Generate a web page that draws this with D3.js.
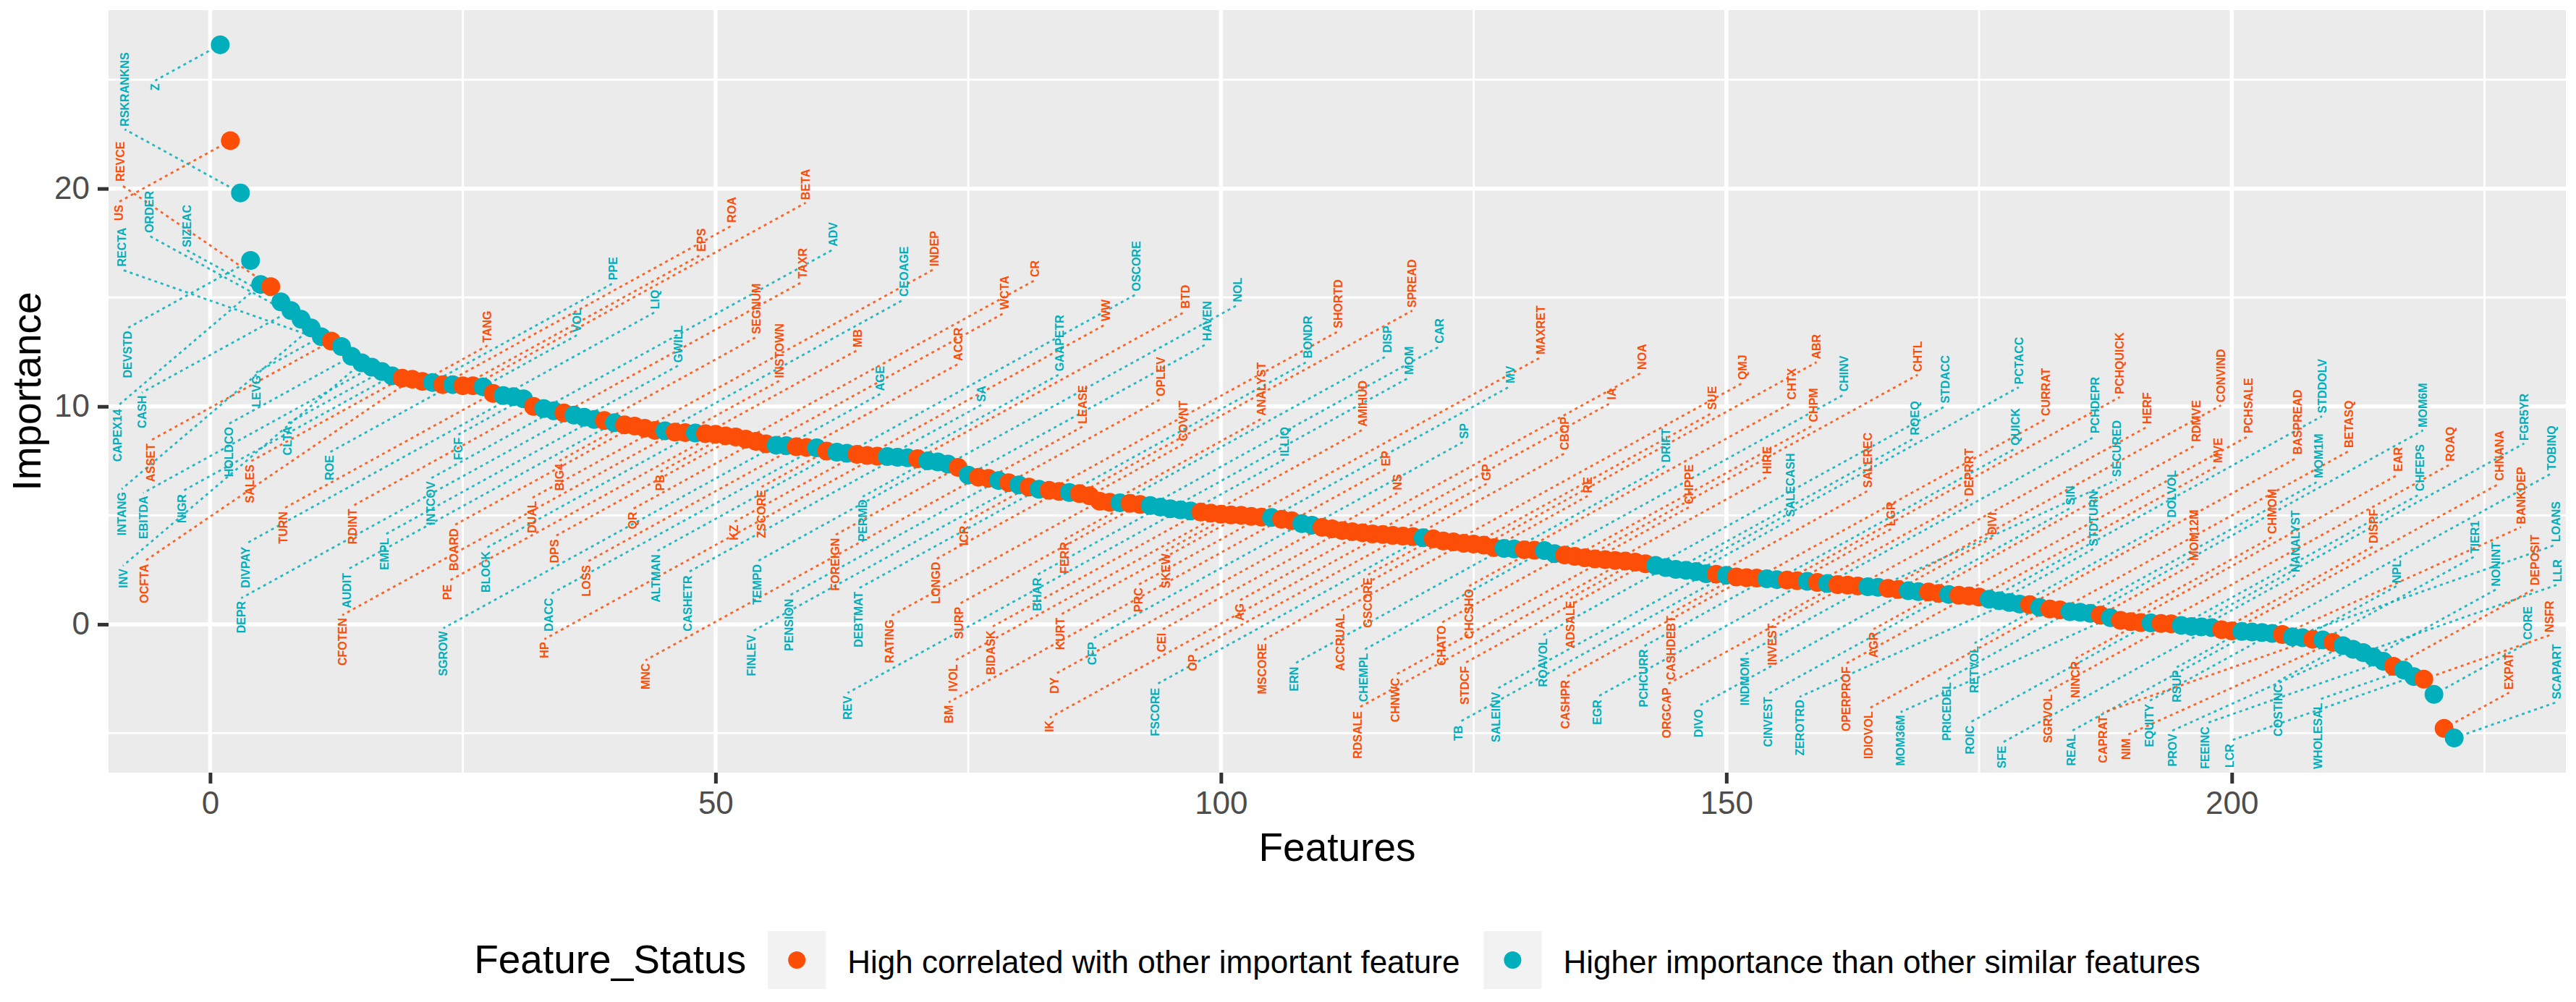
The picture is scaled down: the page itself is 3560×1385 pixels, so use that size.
<!DOCTYPE html>
<meta charset="utf-8">
<script src="https://d3js.org/d3.v7.min.js"></script>
<style type="text/css">
body { margin: 0; background: #fff; }
text { font-family: "Liberation Sans", Arial, sans-serif; }
.panel { fill: #EBEBEB; }
.grid-major { stroke: #fff; stroke-width: 5.5; }
.grid-minor { stroke: #fff; stroke-width: 2.8; }
.axis path { display: none; }
.axis line { stroke: #333333; stroke-width: 5; }
.axis text { fill: #4D4D4D; font-size: 44px; }
.seg { fill: none; stroke-width: 2.8; stroke-dasharray: 4 5; opacity: 0.85; }
.lab { font-size: 16px; font-weight: bold; }
</style>
<body>
</body>
<script>
// importance of each feature, ordered as on the x axis (1..222)
var importance = [
  26.6, 22.2, 19.8, 16.7, 15.6, 15.5, 14.8, 14.4, 14.0, 13.6,
  13.2, 13.0, 12.75, 12.3, 12.0, 11.8, 11.6, 11.4, 11.3, 11.25,
  11.15, 11.1, 11.0, 11.0, 10.95, 10.95, 10.9, 10.6, 10.5, 10.45,
  10.35, 10.0, 9.9, 9.8, 9.7, 9.6, 9.5, 9.4, 9.35, 9.25,
  9.15, 9.1, 9.0, 8.9, 8.88, 8.82, 8.8, 8.78, 8.75, 8.72,
  8.65, 8.6, 8.5, 8.4, 8.28, 8.22, 8.2, 8.15, 8.12, 8.1,
  7.95, 7.9, 7.85, 7.8, 7.75, 7.72, 7.7, 7.67, 7.64, 7.6,
  7.5, 7.45, 7.35, 7.2, 6.85, 6.75, 6.7, 6.6, 6.5, 6.4,
  6.3, 6.2, 6.15, 6.1, 6.05, 6.0, 5.9, 5.65, 5.6, 5.58,
  5.55, 5.5, 5.45, 5.38, 5.3, 5.25, 5.2, 5.15, 5.1, 5.05,
  5.02, 5.0, 4.95, 4.92, 4.9, 4.82, 4.75, 4.62, 4.55, 4.45,
  4.38, 4.3, 4.25, 4.2, 4.15, 4.12, 4.08, 4.05, 4.02, 3.97,
  3.92, 3.82, 3.78, 3.72, 3.68, 3.63, 3.52, 3.48, 3.46, 3.42,
  3.4, 3.38, 3.24, 3.18, 3.12, 3.05, 3.0, 2.97, 2.93, 2.9,
  2.85, 2.78, 2.7, 2.6, 2.52, 2.48, 2.42, 2.32, 2.3, 2.25,
  2.17, 2.14, 2.12, 2.09, 2.05, 2.03, 2.0, 1.97, 1.92, 1.87,
  1.82, 1.8, 1.76, 1.72, 1.7, 1.65, 1.6, 1.54, 1.5, 1.48,
  1.42, 1.37, 1.33, 1.3, 1.25, 1.15, 1.08, 1.0, 0.93, 0.9,
  0.78, 0.7, 0.66, 0.58, 0.55, 0.5, 0.42, 0.3, 0.18, 0.12,
  0.08, 0.06, 0.04, 0.02, -0.05, -0.1, -0.12, -0.15, -0.25, -0.3,
  -0.33, -0.35, -0.38, -0.42, -0.47, -0.58, -0.62, -0.69, -0.72, -0.83,
  -0.98, -1.15, -1.3, -1.5, -1.7, -1.93, -2.1, -2.4, -2.52, -3.22,
  -4.78, -5.22
];

// O = high correlated with other important feature, T = higher importance than similar
var featureStatus = ("TOTTTOTTTT" + "TOTTTTTTOO" + "OTOTOOTOTT" + "TOTTOTTTOT" + "OOOOTOOTOO" +
              "OOOOOTTOOT" + "OTTOOOTTTO" + "TTTOTOOTOT" + "OTOOTOOOOT" + "OOTTTTTOOO" +
              "OOOOTOOTTO" + "OOOOOOOOOT" + "OOOOOOOTTO" + "OTTOOOOOOO" + "OOTTTTTTOT" +
              "OOOTTOOTOT" + "OOOTTOOTTO" + "OTOOOTTTTO" + "TOOTTTOTOO" + "OTOOTTTTOO" +
              "TTTTOTTOTO" + "TTTTTOTTOT" + "OT").split("");

var names = ("Z US RSKRANKNS DEVSTD CAPEX14 REVCE SIZEAC CASH ORDER INTANG " +
  "LEVG ASSET RECTA HOLDCO INV EBITDA CLTA NIGR SALES OCFTA " +
  "TANG PPE ROA ROE EPS BETA VOL TURN LIQ DIVPAY " +
  "FCF RDINT ADV INTCOV TAXR DEPR GWILL EMPL SEGNUM AUDIT " +
  "BIG4 BOARD INDEP DUAL CEOAGE CFOTEN INSTOWN BLOCK MB PE " +
  "PB DPS CR QR WCTA SGROW AGE LOSS ACCR DACC " +
  "ZSCORE ALTMAN OSCORE KZ WW HP SA CASHETR GAAPETR BTD " +
  "PERMD TEMPD NOL FOREIGN HAVEN MNC LEASE PENSION OPLEV FINLEV " +
  "ICR DEBTMAT SHORTD LONGD BONDR SPREAD COVNT RATING ANALYST DISP " +
  "FERR SURP CAR BHAR MOM REV ILLIQ BIDASK AMIHUD IVOL " +
  "SKEW KURT MAXRET PRC MV BM EP CFP SP DY " +
  "NS CEI NOA AG IA IK GP OP CBOP FSCORE " +
  "GSCORE MSCORE QMJ ACCRUAL SUE ABR RE ERN DRIFT CHTX " +
  "CHCSHO CHEMPL CHINV CHATO CHPM CHTL CHPPE CHNWC HIRE RDSALE " +
  "ADSALE STDCF STDACC ROAVOL ROEQ PCTACC SALECASH SALEINV SALEREC TB " +
  "CASHDEBT CASHPR CURRAT PCHCURR QUICK PCHQUICK LGR EGR DEPRRT PCHDEPR " +
  "INVEST ORGCAP HERF INDMOM SECURED CONVIND DIVI DIVO SIN RDMVE " +
  "AGR CINVEST PCHSALE OPERPROF MVE STDDOLV STDTURN ZEROTRD DOLVOL BASPREAD " +
  "RETVOL IDIOVOL BETASQ PRICEDEL MOM1M MOM6M MOM12M MOM36M CHMOM EAR " +
  "NINCR ROIC ROAQ SGRVOL CHFEPS FGR5YR NANALYST SFE DISPF CHNANA " +
  "RSUP REAL TOBINQ EQUITY BANKDEP LOANS NPL CAPRAT TIER1 NIM " +
  "COSTINC PROV LLR NONINT FEEINC DEPOSIT WHOLESAL LCR NSFR CORE " +
  "EXPAT SCAPART").split(" ");

var statusKeys = ["O", "T"];
var statusLabels = ["High correlated with other important feature", "Higher importance than other similar features"];
var statusColors = ["#FC4E07", "#00AFBB"];

var xMajor = [0, 50, 100, 150, 200];
var xMinor = [25, 75, 125, 175, 225];
var yMajor = [0, 10, 20];
var yMinor = [-5, 5, 15, 25];

var W = 3560, H = 1385;
var panel = {left: 150, right: 3546, top: 14, bottom: 1068};

var color = d3.scaleOrdinal().domain(statusKeys).range(statusColors);

var n = importance.length;
var xPad = (n - 1) * 0.05;
var xScale = d3.scaleLinear()
    .domain([1 - xPad, n + xPad])
    .range([panel.left, panel.right]);
var yExt = d3.extent(importance), yPad = (yExt[1] - yExt[0]) * 0.05;
var yScale = d3.scaleLinear()
    .domain([yExt[0] - yPad, yExt[1] + yPad])
    .range([panel.bottom, panel.top]);

var svg = d3.select("body").append("svg")
    .attr("width", W)
    .attr("height", H);

svg.append("rect")
    .attr("class", "panel")
    .attr("x", panel.left).attr("y", panel.top)
    .attr("width", panel.right - panel.left)
    .attr("height", panel.bottom - panel.top);

// grid
svg.selectAll(".gxm").data(xMinor).enter().append("line")
    .attr("class", "grid-minor")
    .attr("x1", function(d) { return xScale(d); }).attr("x2", function(d) { return xScale(d); })
    .attr("y1", panel.top).attr("y2", panel.bottom);
svg.selectAll(".gym").data(yMinor).enter().append("line")
    .attr("class", "grid-minor")
    .attr("y1", function(d) { return yScale(d); }).attr("y2", function(d) { return yScale(d); })
    .attr("x1", panel.left).attr("x2", panel.right);
svg.selectAll(".gxM").data(xMajor).enter().append("line")
    .attr("class", "grid-major")
    .attr("x1", function(d) { return xScale(d); }).attr("x2", function(d) { return xScale(d); })
    .attr("y1", panel.top).attr("y2", panel.bottom);
svg.selectAll(".gyM").data(yMajor).enter().append("line")
    .attr("class", "grid-major")
    .attr("y1", function(d) { return yScale(d); }).attr("y2", function(d) { return yScale(d); })
    .attr("x1", panel.left).attr("x2", panel.right);

// axes
svg.append("g")
    .attr("class", "axis")
    .attr("transform", "translate(0," + panel.bottom + ")")
    .call(d3.axisBottom(xScale).tickValues(xMajor).tickSize(15).tickPadding(11));
svg.append("g")
    .attr("class", "axis")
    .attr("transform", "translate(" + panel.left + ",0)")
    .call(d3.axisLeft(yScale).tickValues(yMajor).tickSize(15).tickPadding(11));

svg.append("text")
    .text("Features")
    .attr("x", (panel.left + panel.right) / 2)
    .attr("y", 1190)
    .attr("text-anchor", "middle")
    .attr("font-size", "55px");
svg.append("text")
    .text("Importance")
    .attr("transform", "translate(56," + ((panel.top + panel.bottom) / 2) + ") rotate(-90)")
    .attr("text-anchor", "middle")
    .attr("font-size", "55px");

// --- repel-like label placement ---
var FS = 16, R = 13;
var pts = importance.map(function(v, i) {
  return {px: xScale(i + 1), py: yScale(v), name: names[i], st: featureStatus[i]};
});

var meas = svg.append("text").attr("class", "lab");
pts.forEach(function(p) { meas.text(p.name); p.len = meas.node().getComputedTextLength(); });
meas.remove();

var boxes = [];
function hitsBox(b) {
  for (var j = 0; j < boxes.length; j++) {
    var c = boxes[j];
    if (b.x0 < c.x1 + 7 && b.x1 > c.x0 - 7 && b.y0 < c.y1 + 5 && b.y1 > c.y0 - 5) return true;
  }
  return false;
}
function hitsPoint(b) {
  for (var j = 0; j < pts.length; j++) {
    var p = pts[j];
    if (p.px < b.x0 - R - 8 || p.px > b.x1 + R + 8) continue;
    var cx = Math.max(b.x0, Math.min(p.px, b.x1));
    var cy = Math.max(b.y0, Math.min(p.py, b.y1));
    if ((cx - p.px) * (cx - p.px) + (cy - p.py) * (cy - p.py) < (R + 8) * (R + 8)) return true;
  }
  return false;
}

// preferred leader lengths cycle, so the labels spread over the panel
var prefDist = [90, 250, 400, 170, 330, 460, 130, 290, 210, 370];
var slopes = [0.55, 0.45, 0.68, 0.35, 0.85];
function tryAt(p, i, d, slope, side) {
  var w = FS * 0.95, len = p.len + 5;
  var dx = side > 0 ? d : -d;
  if (i < 20 && side > 0) dx = -d;          // steep head: labels go to the left
  var ax = p.px + dx, ay = p.py - side * d * slope;
  var b = side > 0
    ? {x0: ax - w / 2, x1: ax + w / 2, y0: ay - len, y1: ay}
    : {x0: ax - w / 2, x1: ax + w / 2, y0: ay, y1: ay + len};
  if (b.x0 < panel.left + 4 || b.x1 > panel.right - 4 || b.y0 < panel.top + 4 || b.y1 > panel.bottom - 4) return null;
  if (hitsBox(b) || hitsPoint(b)) return null;
  return {ax: ax, ay: ay, side: side, b: b};
}
pts.forEach(function(p, i) {
  var pref = (i % 2) ? -1 : 1;
  var dp = prefDist[i % prefDist.length];
  var found = null;
  for (var off = 0; off < 1500 && !found; off += 12) {
    var ds = off === 0 ? [dp] : [dp + off, dp - off];
    for (var q = 0; q < ds.length && !found; q++) {
      if (ds[q] < 30) continue;
      for (var s = 0; s < slopes.length && !found; s++) {
        found = tryAt(p, i, ds[q], slopes[s], pref) || tryAt(p, i, ds[q], slopes[s], -pref);
      }
    }
  }
  if (found) { boxes.push(found.b); p.lab = found; }
});

var placed = pts.filter(function(p) { return p.lab; });

svg.append("g").selectAll("line").data(placed).enter().append("line")
    .attr("class", "seg")
    .attr("stroke", function(d) { return color(d.st); })
    .attr("x1", function(d) { return d.px; })
    .attr("y1", function(d) { return d.py; })
    .attr("x2", function(d) { return d.lab.ax; })
    .attr("y2", function(d) { return d.lab.ay; });

svg.append("g").selectAll("circle").data(pts).enter().append("circle")
    .attr("cx", function(d) { return d.px; })
    .attr("cy", function(d) { return d.py; })
    .attr("r", R)
    .attr("fill", function(d) { return color(d.st); });

svg.append("g").selectAll("text").data(placed).enter().append("text")
    .attr("class", "lab")
    .attr("fill", function(d) { return color(d.st); })
    .attr("text-anchor", function(d) { return d.lab.side > 0 ? "start" : "end"; })
    .attr("dy", "0.35em")
    .attr("transform", function(d) {
      var yy = d.lab.side > 0 ? d.lab.ay - 4 : d.lab.ay + 4;
      return "translate(" + d.lab.ax + "," + yy + ") rotate(-90)";
    })
    .text(function(d) { return d.name; });

// --- legend ---
var legend = svg.append("g");
var base = 1345, keySize = 80, keyY = 1287;
var title = legend.append("text").text("Feature_Status").attr("font-size", "55px").attr("y", base);
var titleW = title.node().getComputedTextLength();
var labW = statusLabels.map(function(t) {
  var el = legend.append("text").text(t).attr("font-size", "44px").attr("y", base);
  var w = el.node().getComputedTextLength();
  el.remove();
  return w;
});
var total = titleW + 30 + (keySize + 30) * 2 + labW[0] + 33 + labW[1];
var lx = (panel.left + panel.right) / 2 - total / 2;
title.attr("x", lx);
var cur = lx + titleW + 30;
statusKeys.forEach(function(k, i) {
  legend.append("rect")
      .attr("x", cur).attr("y", keyY)
      .attr("width", keySize).attr("height", keySize)
      .attr("fill", "#F2F2F2");
  legend.append("circle")
      .attr("cx", cur + keySize / 2).attr("cy", keyY + keySize / 2)
      .attr("r", 12)
      .attr("fill", color(k));
  legend.append("text")
      .text(statusLabels[i])
      .attr("x", cur + keySize + 30)
      .attr("y", base)
      .attr("font-size", "44px");
  cur += keySize + 30 + labW[i] + 33;
});
</script>
